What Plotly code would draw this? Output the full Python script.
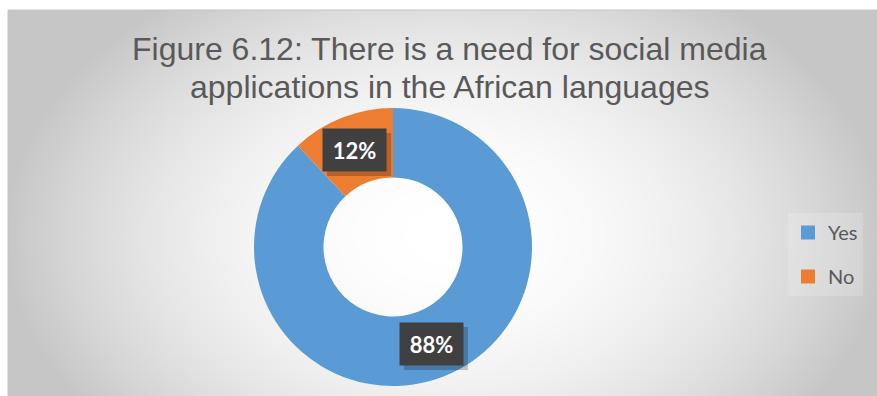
import numpy as np
import plotly.graph_objects as go

# ---- data ----
categories = ["Yes", "No"]
values = [88, 12]
colors = ["#5B9BD5", "#ED7D31"]
title_lines = ["Figure 6.12: There is a need for social media",
               "applications in the African languages"]

W, H = 877, 396
FRAME_LEFT, FRAME_TOP = 8, 10

# donut placement (pixels)
CX, CY, R_OUT = 393, 247, 139
HOLE = 0.5
BOX_W, BOX_H = 63, 42

fig = go.Figure()

# soft radial grey background of the chart frame
gx = np.linspace(FRAME_LEFT, W, 180)
gy = np.linspace(FRAME_TOP, H, 90)
GX, GY = np.meshgrid(gx, gy)
rr = ((GX - 445) / 440) ** 2 + ((GY - 235) / 300) ** 2
shade = np.clip(rr, 0, 1)
fig.add_trace(go.Heatmap(
    x=gx, y=gy, z=shade, zmin=0, zmax=1,
    colorscale=[[0, "#ffffff"], [1, "#c6c6c6"]],
    showscale=False, hoverinfo="skip", zsmooth="best",
    xaxis="x", yaxis="y",
))

# donut
dom_x = [(CX - R_OUT) / W, (CX + R_OUT) / W]
dom_y = [(H - CY - R_OUT) / H, (H - CY + R_OUT) / H]
fig.add_trace(go.Pie(
    labels=categories, values=values, hole=HOLE,
    marker=dict(colors=colors, line=dict(width=0)),
    sort=False, direction="clockwise", rotation=0,
    textinfo="none", showlegend=False,
    domain=dict(x=dom_x, y=dom_y),
))

# legend entries
for name, col in zip(categories, colors):
    fig.add_trace(go.Scatter(
        x=[None], y=[None], mode="markers", name=name,
        marker=dict(symbol="square", size=14, color=col),
        legendgroup=name, xaxis="x", yaxis="y",
    ))

# value labels at the middle of each ring segment, with a soft drop shadow
total = sum(values)
r_mid = R_OUT * (1 + HOLE) / 2
cum = 0
annotations = []
shapes = []
for v in values:
    theta = np.radians((cum + v / 2) / total * 360)
    cum += v
    px = CX + r_mid * np.sin(theta)
    py = (H - CY) + r_mid * np.cos(theta)
    label = f"{round(v / total * 100)}%"
    shapes.append(dict(type="rect", xref="paper", yref="paper",
                       xsizemode="pixel", ysizemode="pixel",
                       xanchor=px / W, yanchor=py / H,
                       x0=-BOX_W / 2 + 4, x1=BOX_W / 2 + 5,
                       y0=-BOX_H / 2 - 5, y1=BOX_H / 2 - 4,
                       fillcolor="rgba(0,0,0,0.22)", line=dict(width=0), layer="above"))
    annotations.append(dict(x=px / W, y=py / H, xref="paper", yref="paper",
                            xanchor="center", yanchor="middle",
                            showarrow=False, width=BOX_W, height=BOX_H, borderpad=0,
                            text=f"<b>{label}</b>", bgcolor="#404040",
                            font=dict(family="Lato", size=22, color="#ffffff")))

# title
for i, line in enumerate(title_lines):
    annotations.append(dict(x=449 / W, y=1 - (30 + 38 * i) / H, xref="paper", yref="paper",
                            xanchor="center", yanchor="top", showarrow=False,
                            text=line, borderpad=0,
                            font=dict(family="Liberation Sans", size=32, color="#595959")))

shapes.append(dict(type="rect", xref="paper", yref="paper",
                   x0=FRAME_LEFT / W, x1=1.01, y0=-0.01, y1=1 - FRAME_TOP / H,
                   line=dict(color="#c4c4c4", width=1)))

fig.update_layout(
    width=W, height=H,
    margin=dict(l=0, r=0, t=0, b=0),
    paper_bgcolor="#ffffff",
    plot_bgcolor="rgba(0,0,0,0)",
    xaxis=dict(domain=[FRAME_LEFT / W, 1], range=[FRAME_LEFT, W], visible=False, fixedrange=True),
    yaxis=dict(domain=[0, 1 - FRAME_TOP / H], range=[H, FRAME_TOP], visible=False, fixedrange=True),
    legend=dict(x=788 / W, y=1 - 213 / H, xanchor="left", yanchor="top",
                bgcolor="rgba(255,255,255,0.18)", tracegroupgap=15,
                font=dict(family="Lato", size=20, color="#595959")),
    annotations=annotations,
    shapes=shapes,
)

fig.write_html("out.html")
